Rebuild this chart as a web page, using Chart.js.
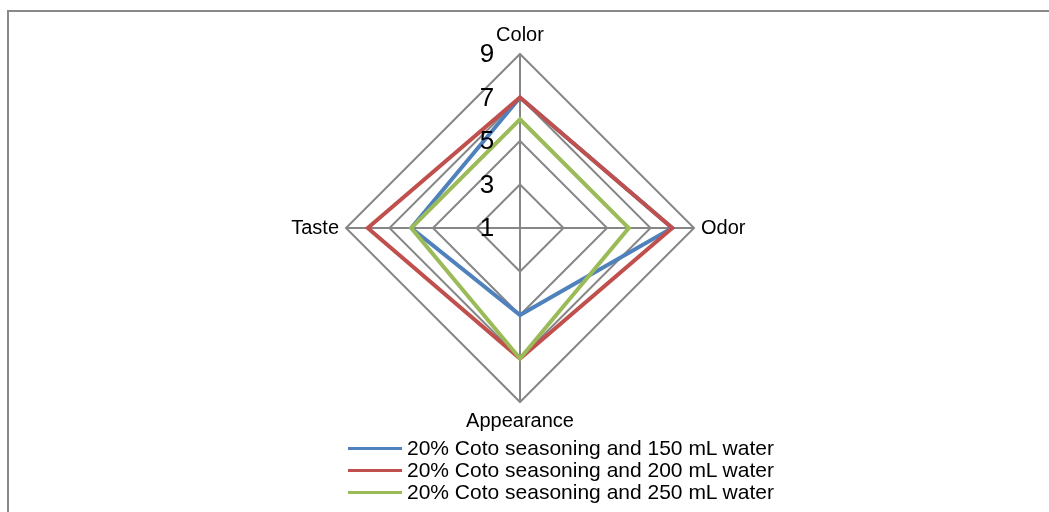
<!DOCTYPE html>
<html>
<head>
<meta charset="utf-8">
<script src="https://cdn.jsdelivr.net/npm/chart.js@4"></script>
<style>
  body { margin: 0; background: #fff; width: 1049px; height: 512px; overflow: hidden; position: relative; font-family: "Liberation Sans", Arial, sans-serif; }
  #frame { position: absolute; left: 7px; top: 10px; width: 1100px; height: 600px; border-top: 2px solid #898989; border-left: 2px solid #898989; }
  #wrap { position: absolute; left: 0; top: 0; width: 1040px; height: 456px; }
  #legend { position: absolute; left: 348px; top: 437px; }
  .row { height: 22px; display: flex; align-items: center; font-size: 21px; color: #000; white-space: nowrap; }
  .swatch { width: 54px; height: 3px; margin-right: 5px; }
</style>
</head>
<body>
<div id="frame"></div>
<div id="wrap"><canvas id="chart" width="1040" height="456"></canvas></div>
<div id="legend"></div>
<script>
'use strict';

/*** DATA ***/

var categories = ['Color', 'Odor', 'Appearance', 'Taste'];
var seriesNames = [
  '20% Coto seasoning and 150 mL water',
  '20% Coto seasoning and 200 mL water',
  '20% Coto seasoning and 250 mL water'
];
var water150 = [7, 8, 5, 6];
var water200 = [7, 8, 7, 8];
var water250 = [6, 6, 7, 6];
var tickValues = [1, 3, 5, 7, 9];

var colors = ['#4F81BD', '#C0504D', '#9BBB59'];
var seriesValues = [water150, water200, water250];

/*** CHART ***/

// tick numbers sit left of the vertical axis, so draw them ourselves
var tickLabelPlugin = {
  id: 'tickLabels',
  afterDraw: function(chart) {
    var scale = chart.scales.r;
    var ctx = chart.ctx;
    ctx.save();
    ctx.font = '26px "Liberation Sans", Arial, sans-serif';
    ctx.fillStyle = '#000';
    ctx.textAlign = 'center';
    ctx.textBaseline = 'middle';
    for (var i = 0; i < tickValues.length; i++) {
      var d = scale.getDistanceFromCenterForValue(tickValues[i]);
      ctx.fillText(String(tickValues[i]), scale.xCenter - 33, scale.yCenter - d + 1);
    }
    ctx.restore();
  }
};

var datasets = [];
for (var i = 0; i < seriesNames.length; i++) {
  datasets.push({
    label: seriesNames[i],
    data: seriesValues[i],
    borderColor: colors[i],
    backgroundColor: colors[i],
    borderWidth: 4,
    fill: false,
    pointRadius: 0,
    pointHoverRadius: 0,
    order: seriesNames.length - i
  });
}

var ctx = document.getElementById('chart').getContext('2d');
var chart = new Chart(ctx, {
  type: 'radar',
  data: {
    labels: categories,
    datasets: datasets
  },
  options: {
    responsive: false,
    animation: false,
    layout: { padding: { top: 23, bottom: 23, left: 0, right: 0 } },
    plugins: {
      legend: { display: false },
      tooltip: { enabled: false }
    },
    scales: {
      r: {
        min: 1,
        max: 9,
        ticks: { stepSize: 2, display: false },
        grid: { color: '#868686', lineWidth: 2 },
        angleLines: { color: '#868686', lineWidth: 2 },
        pointLabels: {
          color: '#000',
          padding: 7,
          font: { family: '"Liberation Sans", Arial, sans-serif', size: 20 }
        }
      }
    }
  },
  plugins: [tickLabelPlugin]
});

/*** LEGEND ***/

var legend = document.getElementById('legend');
for (var j = 0; j < seriesNames.length; j++) {
  var row = document.createElement('div');
  row.className = 'row';
  var sw = document.createElement('span');
  sw.className = 'swatch';
  sw.style.background = colors[j];
  var txt = document.createElement('span');
  txt.textContent = seriesNames[j];
  row.appendChild(sw);
  row.appendChild(txt);
  legend.appendChild(row);
}
</script>
</body>
</html>
